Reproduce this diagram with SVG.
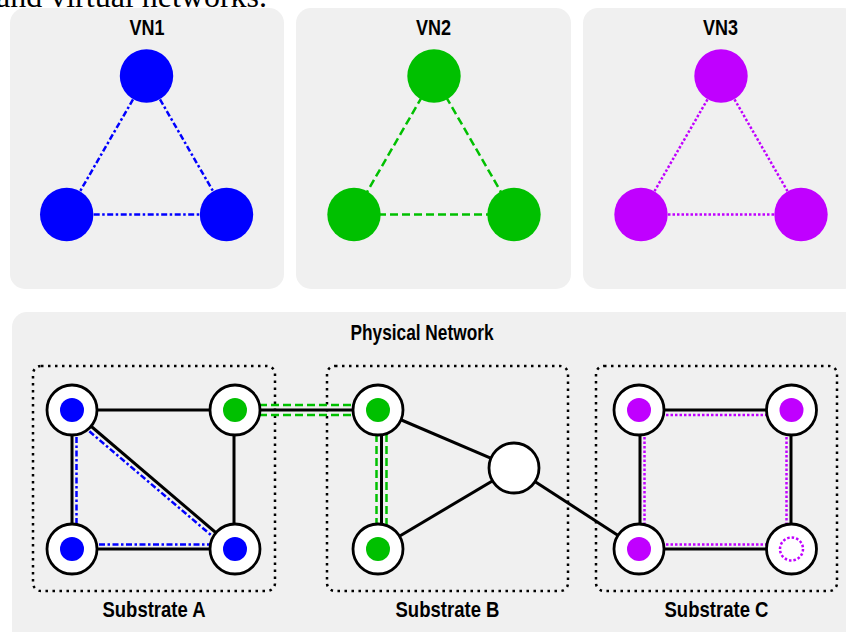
<svg xmlns="http://www.w3.org/2000/svg" width="846" height="632" viewBox="0 0 846 632">
  <style>
    .panel { fill: #f0f0f0; }
    .title { font-family: "Liberation Sans", Arial, sans-serif; font-weight: bold; font-size: 22px; fill: #000; text-anchor: middle; }
    .caption { font-family: "Liberation Serif", "Times New Roman", serif; font-size: 32px; fill: #000; }
    .domain { fill: none; stroke: #000; stroke-width: 2.5; stroke-dasharray: 2.5 4.5; }
    .phys { stroke: #000; stroke-width: 3; fill: none; }
    .vn1 { stroke: #0000ff; stroke-width: 2.5; stroke-dasharray: 6 2.5 2.5 2.5; fill: none; }
    .vn2 { stroke: #00c000; stroke-width: 2.5; stroke-dasharray: 8 4; fill: none; }
    .vn3 { stroke: #c000ff; stroke-width: 2.5; stroke-dasharray: 2.5 2; fill: none; }
    .host { fill: #fff; stroke: #000; stroke-width: 2.8; }
    .blue { fill: #0000ff; }
    .green { fill: #00c000; }
    .purple { fill: #c000ff; }
  </style>

  <rect width="846" height="632" fill="#fff"/>
  <text class="caption" x="-4" y="7">and virtual networks.</text>

  <!-- background panels -->
  <rect class="panel" x="10" y="8" width="274" height="281" rx="15"/>
  <rect class="panel" x="296" y="8" width="275" height="281" rx="15"/>
  <rect class="panel" x="583" y="8" width="275" height="281" rx="15"/>
  <rect class="panel" x="12" y="312" width="850" height="340" rx="15"/>

  <text class="title" x="147" y="35" textLength="35" lengthAdjust="spacingAndGlyphs">VN1</text>
  <text class="title" x="433.5" y="35" textLength="35" lengthAdjust="spacingAndGlyphs">VN2</text>
  <text class="title" x="720.5" y="35" textLength="35" lengthAdjust="spacingAndGlyphs">VN3</text>
  <text class="title" x="422" y="340" textLength="143" lengthAdjust="spacingAndGlyphs">Physical Network</text>

  <!-- substrate domains -->
  <g id="substrate-a">
    <rect class="domain" x="33" y="366" width="242" height="225" rx="8"/>
    <text class="title" x="154" y="617" textLength="103" lengthAdjust="spacingAndGlyphs">Substrate A</text>
  </g>
  <g id="substrate-b">
    <rect class="domain" x="327" y="366" width="241" height="225" rx="8"/>
    <text class="title" x="447.5" y="617" textLength="104" lengthAdjust="spacingAndGlyphs">Substrate B</text>
  </g>
  <g id="substrate-c">
    <rect class="domain" x="596" y="366" width="241" height="225" rx="8"/>
    <text class="title" x="716.5" y="617" textLength="104" lengthAdjust="spacingAndGlyphs">Substrate C</text>
  </g>

  <!-- connectors -->
  <g id="connectors">
    <!-- virtual network links -->
    <line class="vn1" x1="146.5" y1="76" x2="66.7" y2="214.5"/>
    <line class="vn1" x1="146.5" y1="76" x2="226.5" y2="214.5"/>
    <line class="vn1" x1="66.7" y1="214.5" x2="226.5" y2="214.5"/>

    <line class="vn2" x1="434" y1="76" x2="354" y2="214.5"/>
    <line class="vn2" x1="434" y1="76" x2="514" y2="214.5"/>
    <line class="vn2" x1="354" y1="214.5" x2="514" y2="214.5"/>

    <line class="vn3" x1="721" y1="76" x2="641" y2="214.5"/>
    <line class="vn3" x1="721" y1="76" x2="801" y2="214.5"/>
    <line class="vn3" x1="641" y1="214.5" x2="801" y2="214.5"/>

    <!-- physical links -->
    <line class="phys" x1="72" y1="410" x2="235" y2="410"/>
    <line class="phys" x1="72" y1="410" x2="72" y2="549"/>
    <line class="phys" x1="72" y1="410" x2="235" y2="549"/>
    <line class="phys" x1="234" y1="410" x2="234" y2="549"/>
    <line class="phys" x1="72" y1="549" x2="235" y2="549"/>
    <line class="phys" x1="235" y1="410" x2="378" y2="410"/>
    <line class="phys" x1="381.5" y1="410" x2="381.5" y2="549"/>
    <line class="phys" x1="378" y1="410" x2="514" y2="468"/>
    <line class="phys" x1="378" y1="549" x2="514" y2="468"/>
    <line class="phys" x1="514" y1="468" x2="639" y2="549"/>
    <line class="phys" x1="639" y1="410" x2="791" y2="410"/>
    <line class="phys" x1="640" y1="410" x2="640" y2="549"/>
    <line class="phys" x1="791" y1="410" x2="791" y2="549"/>
    <line class="phys" x1="639" y1="549" x2="791" y2="549"/>

    <!-- embedded VN1 paths -->
    <line class="vn1" x1="76.5" y1="410" x2="76.5" y2="549"/>
    <line class="vn1" x1="68.8" y1="413.8" x2="231.8" y2="552.8"/>
    <line class="vn1" x1="72" y1="544.5" x2="235" y2="544.5"/>

    <!-- embedded VN2 paths -->
    <line class="vn2" x1="235" y1="405" x2="378" y2="405"/>
    <line class="vn2" x1="235" y1="415" x2="378" y2="415"/>
    <line class="vn2" x1="376.5" y1="410" x2="376.5" y2="549"/>
    <line class="vn2" x1="386.5" y1="410" x2="386.5" y2="549"/>

    <!-- embedded VN3 paths -->
    <line class="vn3" x1="639" y1="415" x2="791" y2="415"/>
    <line class="vn3" x1="644.5" y1="410" x2="644.5" y2="549"/>
    <line class="vn3" x1="786.5" y1="410" x2="786.5" y2="549"/>
    <line class="vn3" x1="639" y1="544.5" x2="791" y2="544.5"/>
  </g>

  <!-- virtual nodes -->
  <g id="vn1-a"><circle class="blue" cx="146.5" cy="76" r="26.7"/></g>
  <g id="vn1-b"><circle class="blue" cx="66.7" cy="214.5" r="26.7"/></g>
  <g id="vn1-c"><circle class="blue" cx="226.5" cy="214.5" r="26.7"/></g>

  <g id="vn2-a"><circle class="green" cx="434" cy="76" r="26.7"/></g>
  <g id="vn2-b"><circle class="green" cx="354" cy="214.5" r="26.7"/></g>
  <g id="vn2-c"><circle class="green" cx="514" cy="214.5" r="26.7"/></g>

  <g id="vn3-a"><circle class="purple" cx="721" cy="76" r="26.7"/></g>
  <g id="vn3-b"><circle class="purple" cx="641" cy="214.5" r="26.7"/></g>
  <g id="vn3-c"><circle class="purple" cx="801" cy="214.5" r="26.7"/></g>

  <!-- physical nodes -->
  <g id="a1"><circle class="host" cx="72" cy="410" r="25"/><circle class="blue" cx="72" cy="410" r="12"/></g>
  <g id="a2"><circle class="host" cx="235" cy="410" r="25"/><circle class="green" cx="235" cy="410" r="12"/></g>
  <g id="a3"><circle class="host" cx="72" cy="549" r="25"/><circle class="blue" cx="72" cy="549" r="12"/></g>
  <g id="a4"><circle class="host" cx="235" cy="549" r="25"/><circle class="blue" cx="235" cy="549" r="12"/></g>

  <g id="b1"><circle class="host" cx="378" cy="410" r="25"/><circle class="green" cx="378" cy="410" r="12"/></g>
  <g id="b2"><circle class="host" cx="378" cy="549" r="25"/><circle class="green" cx="378" cy="549" r="12"/></g>
  <g id="b3"><circle class="host" cx="514" cy="468" r="25"/></g>

  <g id="c1"><circle class="host" cx="639" cy="410" r="25"/><circle class="purple" cx="639" cy="410" r="12"/></g>
  <g id="c2"><circle class="host" cx="791.5" cy="410" r="25"/><circle class="purple" cx="791.5" cy="410" r="12"/></g>
  <g id="c3"><circle class="host" cx="639" cy="549" r="25"/><circle class="purple" cx="639" cy="549" r="12"/></g>
  <g id="c4"><circle class="host" cx="791.5" cy="549" r="25"/><circle class="vn3" cx="791.5" cy="549" r="11.5"/></g>
</svg>
